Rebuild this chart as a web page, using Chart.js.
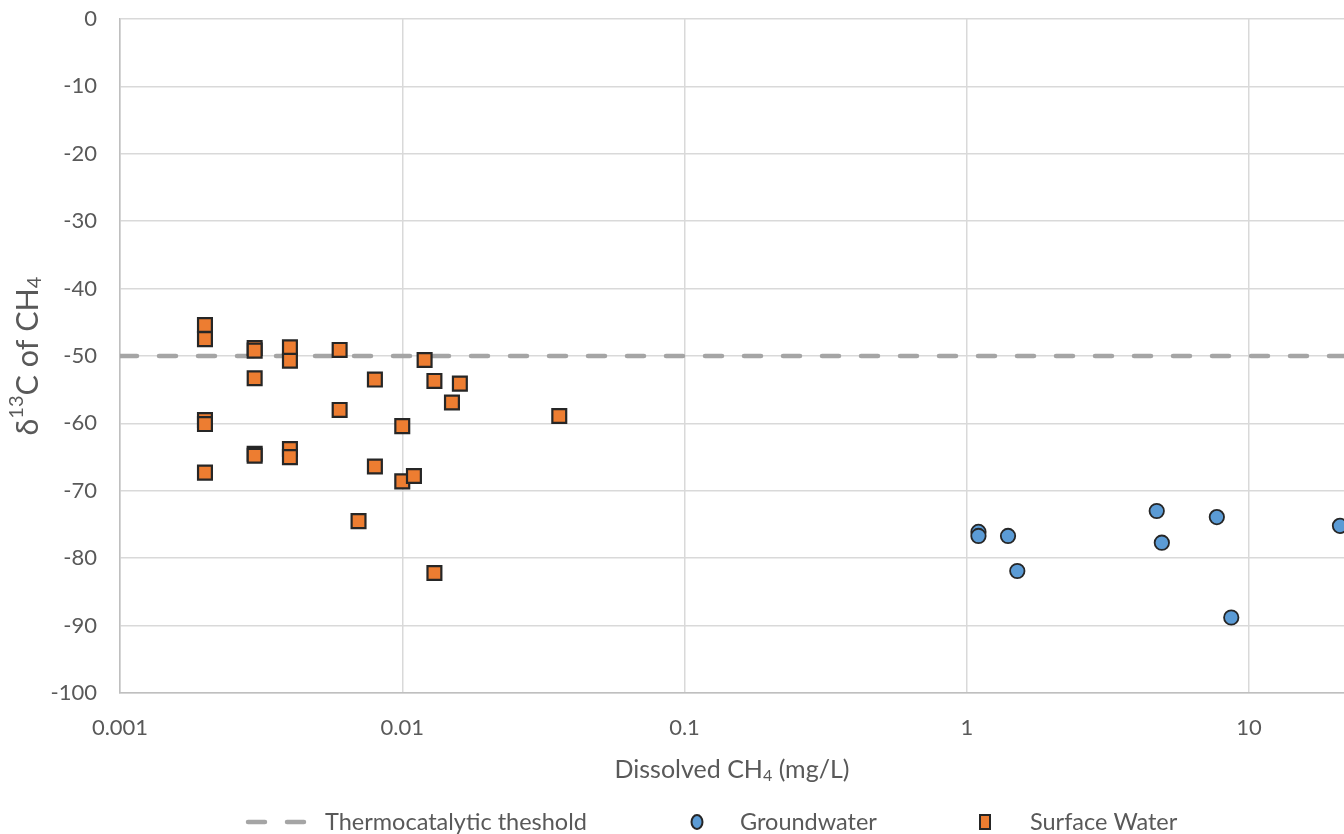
<!DOCTYPE html>
<html>
<head>
<meta charset="utf-8">
<script src="https://cdn.jsdelivr.net/npm/chart.js@4.4.0/dist/chart.umd.min.js"></script>
<style>
html, body { margin: 0; padding: 0; background: #fff; overflow: hidden; }
canvas { display: block; }
</style>
</head>
<body>
<canvas id="isoCanvas" width="1344" height="834"></canvas>
<script>
// axis setup
const xTicks = [0.001, 0.01, 0.1, 1, 10];
const xTickLabels = ['0.001', '0.01', '0.1', '1', '10'];
const xMin = 0.001;
const xMax = 21.7;
const yMin = -100;
const yMax = 0;
const thresholdValue = -50;

// Groundwater (circles)
const groundX = [1.10, 1.10, 1.40, 1.51, 4.71, 4.91, 7.69, 8.65, 21.0];
const groundY = [-76.1, -76.7, -76.7, -81.9, -73.0, -77.7, -73.9, -88.8, -75.2];

// Surface Water (squares)
const surfaceX = [0.002, 0.002, 0.002, 0.002, 0.002,
                  0.003, 0.003, 0.003, 0.003, 0.003,
                  0.004, 0.004, 0.004, 0.004,
                  0.006, 0.006, 0.007, 0.008, 0.008,
                  0.010, 0.010, 0.011, 0.012, 0.013, 0.013,
                  0.015, 0.016, 0.036];
const surfaceY = [-45.4, -47.5, -59.5, -60.1, -67.3,
                  -48.8, -49.2, -53.3, -64.5, -64.8,
                  -48.7, -50.7, -63.8, -65.0,
                  -49.1, -58.0, -74.5, -53.5, -66.4,
                  -60.4, -68.6, -67.8, -50.6, -53.7, -82.2,
                  -56.9, -54.1, -58.9];

// axis titles with super/subscripts
const xTitleParts = [['Dissolved CH', ''], ['4', 'sub'], [' (mg/L)', '']];
const yTitleParts = [['δ', ''], ['13', 'sup'], ['C of CH', ''], ['4', 'sub']];

const labelGray = '#595959';
const fontFam = 'Lato, "Open Sans", sans-serif';

function toPoints(xs, ys) {
    return xs.map((x, i) => ({ x: x, y: ys[i] }));
}

// draws text pieces centred on 0,0 (ctx already moved/rotated)
function drawParts(ctx, parts, size) {
    const small = Math.round(size * 0.64);
    let total = 0;
    parts.forEach(p => {
        ctx.font = (p[1] ? small : size) + 'px ' + fontFam;
        total += ctx.measureText(p[0]).width;
    });
    let x = -total / 2;
    parts.forEach(p => {
        ctx.font = (p[1] ? small : size) + 'px ' + fontFam;
        let dy = 0;
        if (p[1] === 'sup') dy = -size * 0.36;
        if (p[1] === 'sub') dy = size * 0.22;
        ctx.fillText(p[0], x, dy);
        x += ctx.measureText(p[0]).width;
    });
}

const titlesAndLegend = {
    id: 'titlesAndLegend',
    afterDraw(chart) {
        const ctx = chart.ctx;
        const area = chart.chartArea;
        const ds = chart.data.datasets;
        ctx.save();
        ctx.fillStyle = labelGray;
        ctx.textBaseline = 'middle';
        ctx.textAlign = 'left';

        // x title
        ctx.save();
        ctx.translate((area.left + area.right) / 2, 770);
        drawParts(ctx, xTitleParts, 25);
        ctx.restore();

        // y title
        ctx.save();
        ctx.translate(28, (area.top + area.bottom) / 2);
        ctx.rotate(-Math.PI / 2);
        drawParts(ctx, yTitleParts, 30.5);
        ctx.restore();

        // legend
        const y = 822;
        ctx.font = '23.5px ' + fontFam;

        ctx.beginPath();
        ctx.strokeStyle = ds[0].borderColor;
        ctx.lineWidth = ds[0].borderWidth;
        ctx.lineCap = 'round';
        ctx.setLineDash(ds[0].borderDash);
        ctx.moveTo(248, y);
        ctx.lineTo(305, y);
        ctx.stroke();
        ctx.setLineDash([]);
        ctx.fillText(ds[0].label, 325, y);

        ctx.beginPath();
        ctx.ellipse(697, y, 5.5, 7, 0, 0, Math.PI * 2);
        ctx.fillStyle = ds[1].backgroundColor;
        ctx.fill();
        ctx.strokeStyle = ds[1].borderColor;
        ctx.lineWidth = 2;
        ctx.stroke();
        ctx.fillStyle = labelGray;
        ctx.fillText(ds[1].label, 740, y);

        ctx.beginPath();
        ctx.rect(980, y - 7, 10, 14);
        ctx.fillStyle = ds[2].backgroundColor;
        ctx.fill();
        ctx.strokeStyle = ds[2].borderColor;
        ctx.lineWidth = 2;
        ctx.stroke();
        ctx.fillStyle = labelGray;
        ctx.fillText(ds[2].label, 1030, y);
        ctx.restore();
    }
};

const isoChart = new Chart(document.getElementById('isoCanvas'), {
    type: 'scatter',
    data: {
        datasets: [
            {
                type: 'line',
                label: 'Thermocatalytic theshold',
                data: [{ x: xMin, y: thresholdValue }, { x: xMax, y: thresholdValue }],
                borderColor: '#a5a5a5',
                borderWidth: 4.5,
                borderDash: [17, 22],
                borderCapStyle: 'round',
                pointRadius: 0,
                fill: false,
                order: 3
            },
            {
                label: 'Groundwater',
                data: toPoints(groundX, groundY),
                pointStyle: 'circle',
                pointRadius: 7.2,
                backgroundColor: '#5B9BD5',
                borderColor: '#262626',
                borderWidth: 1.8,
                order: 2
            },
            {
                label: 'Surface Water',
                data: toPoints(surfaceX, surfaceY),
                pointStyle: 'rect',
                pointRadius: 9.8,
                backgroundColor: '#ED7D31',
                borderColor: '#262626',
                borderWidth: 2.2,
                order: 1
            }
        ]
    },
    options: {
        responsive: false,
        animation: false,
        layout: { autoPadding: false, padding: { top: 19, right: 0, bottom: 41, left: 0 } },
        plugins: {
            legend: { display: false },
            tooltip: { enabled: false }
        },
        scales: {
            x: {
                type: 'logarithmic',
                min: xMin,
                max: xMax,
                afterBuildTicks: (s) => { s.ticks = xTicks.map(v => ({ value: v })); },
                afterFit: (s) => { s.height = 100; s.paddingLeft = 0; s.paddingRight = 0; },
                ticks: {
                    autoSkip: false,
                    maxRotation: 0,
                    padding: 22,
                    color: labelGray,
                    font: { family: fontFam, size: 22 },
                    callback: (v) => xTickLabels[xTicks.indexOf(v)]
                },
                grid: { color: '#d9d9d9', lineWidth: 1.5, drawTicks: false },
                border: { color: '#bfbfbf', width: 1.5 },
                title: { display: false }
            },
            y: {
                min: yMin,
                max: yMax,
                afterFit: (s) => { s.width = 120; s.paddingTop = 0; s.paddingBottom = 0; },
                ticks: {
                    stepSize: 10,
                    padding: 23,
                    color: labelGray,
                    font: { family: fontFam, size: 22 }
                },
                grid: { color: '#d9d9d9', lineWidth: 1.5, drawTicks: false },
                border: { color: '#bfbfbf', width: 1.5 },
                title: { display: false }
            }
        }
    },
    plugins: [titlesAndLegend]
});
</script>
</body>
</html>
